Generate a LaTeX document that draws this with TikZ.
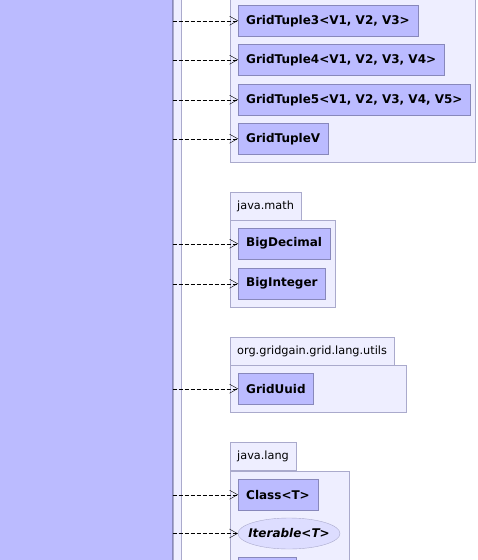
\documentclass[tikz,border=0pt]{standalone}
\usepackage{fontspec}
\setmainfont{DejaVu Sans}
\usepackage{tikz}
\usetikzlibrary{positioning,calc,arrows.meta,shapes.geometric}
\usepackage{xcolor}

\definecolor{clsfill}{HTML}{BBBBFF}
\definecolor{clsline}{HTML}{8888BB}
\definecolor{pkgfill}{HTML}{EEEEFF}
\definecolor{pkgline}{HTML}{AAAACC}
\definecolor{ifcfill}{HTML}{DDDDFF}

\begin{document}
\begin{tikzpicture}[x=1pt,y=-1pt,
    cls/.style={rectangle,draw=clsline,fill=clsfill,anchor=north west,minimum height=31pt,inner xsep=8pt,font=\bfseries\fontsize{12}{14}\selectfont},
    ifc/.style={ellipse,draw=pkgline,fill=ifcfill,minimum height=31pt,minimum width=102pt,inner sep=0pt,font=\bfseries\itshape\fontsize{12}{14}\selectfont},
    pkg/.style={draw=pkgline,fill=pkgfill},
    tab/.style={rectangle,draw=pkgline,fill=pkgfill,anchor=north west,minimum height=28pt,inner xsep=7pt,font=\fontsize{11.3}{13}\selectfont},
    dep/.style={dash pattern=on 4pt off 2pt,-{Straight Barb[length=8pt,width=9pt]}}]

\useasboundingbox (0,0) rectangle (477,560);

% Klasse links
\node[draw=pkgline,fill=pkgfill,minimum width=8pt,minimum height=600pt,inner sep=0pt,anchor=north west] (strip) at (172.5,-20) {};
\node[draw=clsline,fill=clsfill,minimum width=200pt,minimum height=600pt,inner sep=0pt,anchor=north east] (hub) at (172.5,-20) {};

% Pakete
\draw[pkg] (230,-20) rectangle (475.5,162);
\draw[pkg] (230,220) rectangle (335.5,307.5);
\node[tab] (tmath) at (230,192) {java.math};
\draw[pkg] (230,365) rectangle (406.5,412.5);
\node[tab] (tutils) at (230,337) {org.gridgain.grid.lang.utils};
\draw[pkg] (230,471) rectangle (349,600);
\node[tab] (tlang) at (230,442) {java.lang};

% Tupel
\foreach \n/\y/\t in {t3/5/{GridTuple3<V1, V2, V3>},t4/44/{GridTuple4<V1, V2, V3, V4>},t5/84/{GridTuple5<V1, V2, V3, V4, V5>},tv/123/{GridTupleV}} {
    \node[cls] (\n) at (238,\y) {\t};
}

% Klassen
\node[cls] (bd) at (238,228) {BigDecimal};
\node[cls] (bi) at (238,268) {BigInteger};
\node[cls] (uuid) at (238,373) {GridUuid};
\node[cls] (cls) at (238,479) {Class<T>};
\node[ifc] (iter) at (289,533.5) {\makebox[60pt]{Iterable<T>}};
\node[cls,minimum width=58pt] (more) at (238,557) {};

% Abhaengigkeiten
\foreach \n in {t3,t4,t5,tv,bd,bi,uuid,cls,iter} {
    \draw[dep] (hub.east |- \n.west) -- (\n.west);
}

\end{tikzpicture}
\end{document}
